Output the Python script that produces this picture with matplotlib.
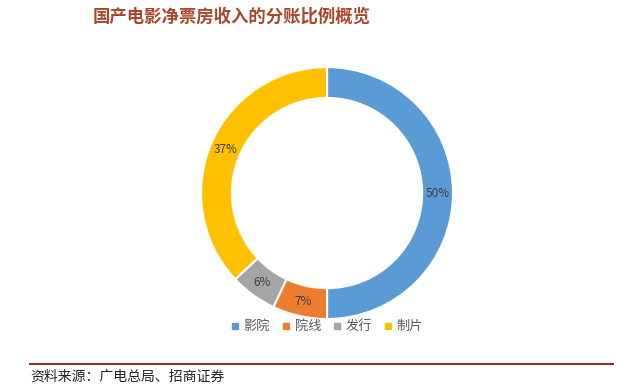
import matplotlib
matplotlib.use("Agg")
import matplotlib.pyplot as plt
from matplotlib.lines import Line2D

plt.rcParams['font.family'] = ['Noto Sans CJK SC', 'DejaVu Sans']

# 数据
categories = ["影院", "院线", "发行", "制片"]
shares = [50, 7, 6, 37]
colors = ["#5B9BD5", "#ED7D31", "#A5A5A5", "#FFC000"]

fig = plt.figure(figsize=(6.4, 3.9), dpi=100)
fig.patch.set_facecolor("white")

# 环形图
ax = fig.add_axes([0.314, 0.182, 0.394, 0.646])
wedges, texts, autotexts = ax.pie(
    shares, colors=colors, startangle=90, counterclock=False,
    autopct="%d%%", pctdistance=0.88,
    wedgeprops=dict(width=0.245, edgecolor="white", linewidth=1.5),
    textprops=dict(color="#404040", fontsize=8.5),
)
ax.set_xlim(-1, 1)
ax.set_ylim(-1, 1)
ax.set_aspect("equal")

# 图例
handles = [Line2D([0], [0], marker="s", linestyle="", markersize=5,
                  markerfacecolor=c, markeredgecolor=c) for c in colors]
fig.legend(handles, categories, loc="center", bbox_to_anchor=(0.511, 0.162),
           ncol=4, frameon=False, fontsize=9.5, handlelength=0.6,
           handletextpad=0.35, columnspacing=0.9, labelcolor="#595959")

# 标题
fig.text(0.145, 0.958, "国产电影净票房收入的分账比例概览", fontsize=12.5,
         fontweight="bold", color="#A8482A", ha="left", va="center")

# 底部分隔线和资料来源
fig.add_artist(Line2D([0.047, 0.958], [0.067, 0.067], color="#8B2E3C", lw=1.5))
fig.text(0.047, 0.033, "资料来源：广电总局、招商证券", fontsize=10,
         color="#222222", ha="left", va="center")

fig.savefig("out.png", dpi=100)
